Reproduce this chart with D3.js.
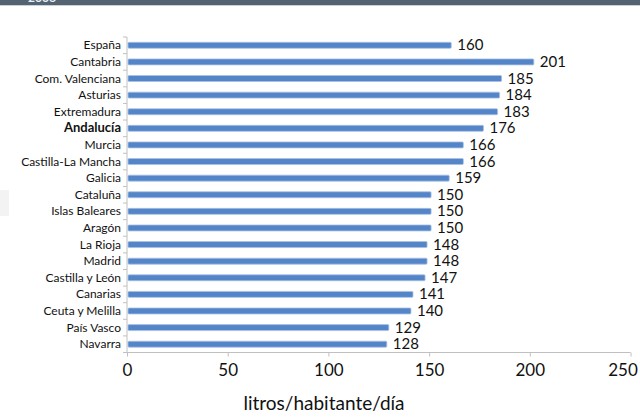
<!DOCTYPE html>
<html><head><meta charset="utf-8">
<script src="https://cdn.jsdelivr.net/npm/d3@7"></script>
<style>body{margin:0;background:#fff}svg{display:block}</style>
</head><body>
<svg id="c" width="640" height="417"></svg>
<script>
const categories = ["España","Cantabria","Com. Valenciana","Asturias","Extremadura","Andalucía","Murcia","Castilla-La Mancha","Galicia","Cataluña","Islas Baleares","Aragón","La Rioja","Madrid","Castilla y León","Canarias","Ceuta y Melilla","País Vasco","Navarra"];
const values = [160,201,185,184,183,176,166,166,159,150,150,150,148,148,147,141,140,129,128];
const xTicks = [0,50,100,150,200,250];
const axisTitle = "litros/habitante/día";
const headerText = "2006";

const svg = d3.select("#c");
const font = "Lato, 'Open Sans', sans-serif";
// header band
svg.append("rect").attr("x",0).attr("y",0).attr("width",640).attr("height",5).attr("fill","#546372");
svg.append("rect").attr("x",0).attr("y",5).attr("width",640).attr("height",1).attr("fill","#c9d0d8");
svg.append("text").attr("x",28).attr("y",2).attr("fill","#e8eef5").attr("font-family",font).attr("font-weight","bold").attr("font-size",12).text(headerText);
// faint left shape
svg.append("rect").attr("x",0).attr("y",190).attr("width",9).attr("height",26).attr("fill","#f3f3f3");

const x = d3.scaleLinear().domain([0,250]).range([127,630.5]);
const y = d3.scaleBand().domain(categories).range([37,352.5]).paddingInner(0.64).paddingOuter(0.32);
const yb = d3.scaleBand().domain(categories).range([37,352.5]);

// y axis line & ticks
const axisCol = "#c0c0c0";
svg.append("line").attr("x1",127).attr("x2",127).attr("y1",yb.range()[0]).attr("y2",352.5).attr("stroke",axisCol);
const bounds = categories.map(c=>yb(c)).concat([352.5]);
svg.selectAll(".yt").data(bounds).join("line").attr("x1",123).attr("x2",127)
  .attr("y1",d=>d).attr("y2",d=>d).attr("stroke",axisCol);

// x axis
const xa = svg.append("g").attr("transform","translate(0,352.5)")
  .call(d3.axisBottom(x).tickValues(xTicks).tickSize(4).tickPadding(7).tickFormat(d3.format("d")));
xa.select(".domain").attr("stroke",axisCol).attr("d","M127,0H630.5");
xa.selectAll(".tick line").attr("stroke",axisCol);
xa.selectAll(".tick text").attr("font-family",font).attr("font-size",17).attr("fill","#111");
xa.selectAll(".tick text").filter(d=>d===250).attr("dx",-8);

// bars
svg.selectAll(".bar").data(values).join("rect")
  .attr("x",x(0)+1).attr("y",(d,i)=>y(categories[i]))
  .attr("width",d=>x(d)-x(0)+1).attr("height",y.bandwidth())
  .attr("fill","#5385c8").attr("stroke","#a9c0e3").attr("stroke-width",0.8).attr("rx",1);

// value labels
svg.selectAll(".val").data(values).join("text")
  .attr("x",d=>x(d)+8).attr("y",(d,i)=>y(categories[i])+y.bandwidth()/2+5)
  .attr("font-family",font).attr("font-size",15).attr("fill","#111").text(d=>d);

// category labels
svg.selectAll(".cat").data(categories).join("text")
  .attr("x",121).attr("y",c=>yb(c)+yb.bandwidth()/2+4)
  .attr("text-anchor","end").attr("font-family",font).attr("fill","#111")
  .attr("font-weight",c=>c==="Andalucía"?"bold":"normal")
  .attr("font-size",c=>c==="Andalucía"?13:12)
  .text(c=>c);

// axis title
svg.append("text").attr("x",324).attr("y",410).attr("text-anchor","middle")
  .attr("font-family",font).attr("font-size",19).attr("fill","#111").text(axisTitle);
</script>
</body></html>
